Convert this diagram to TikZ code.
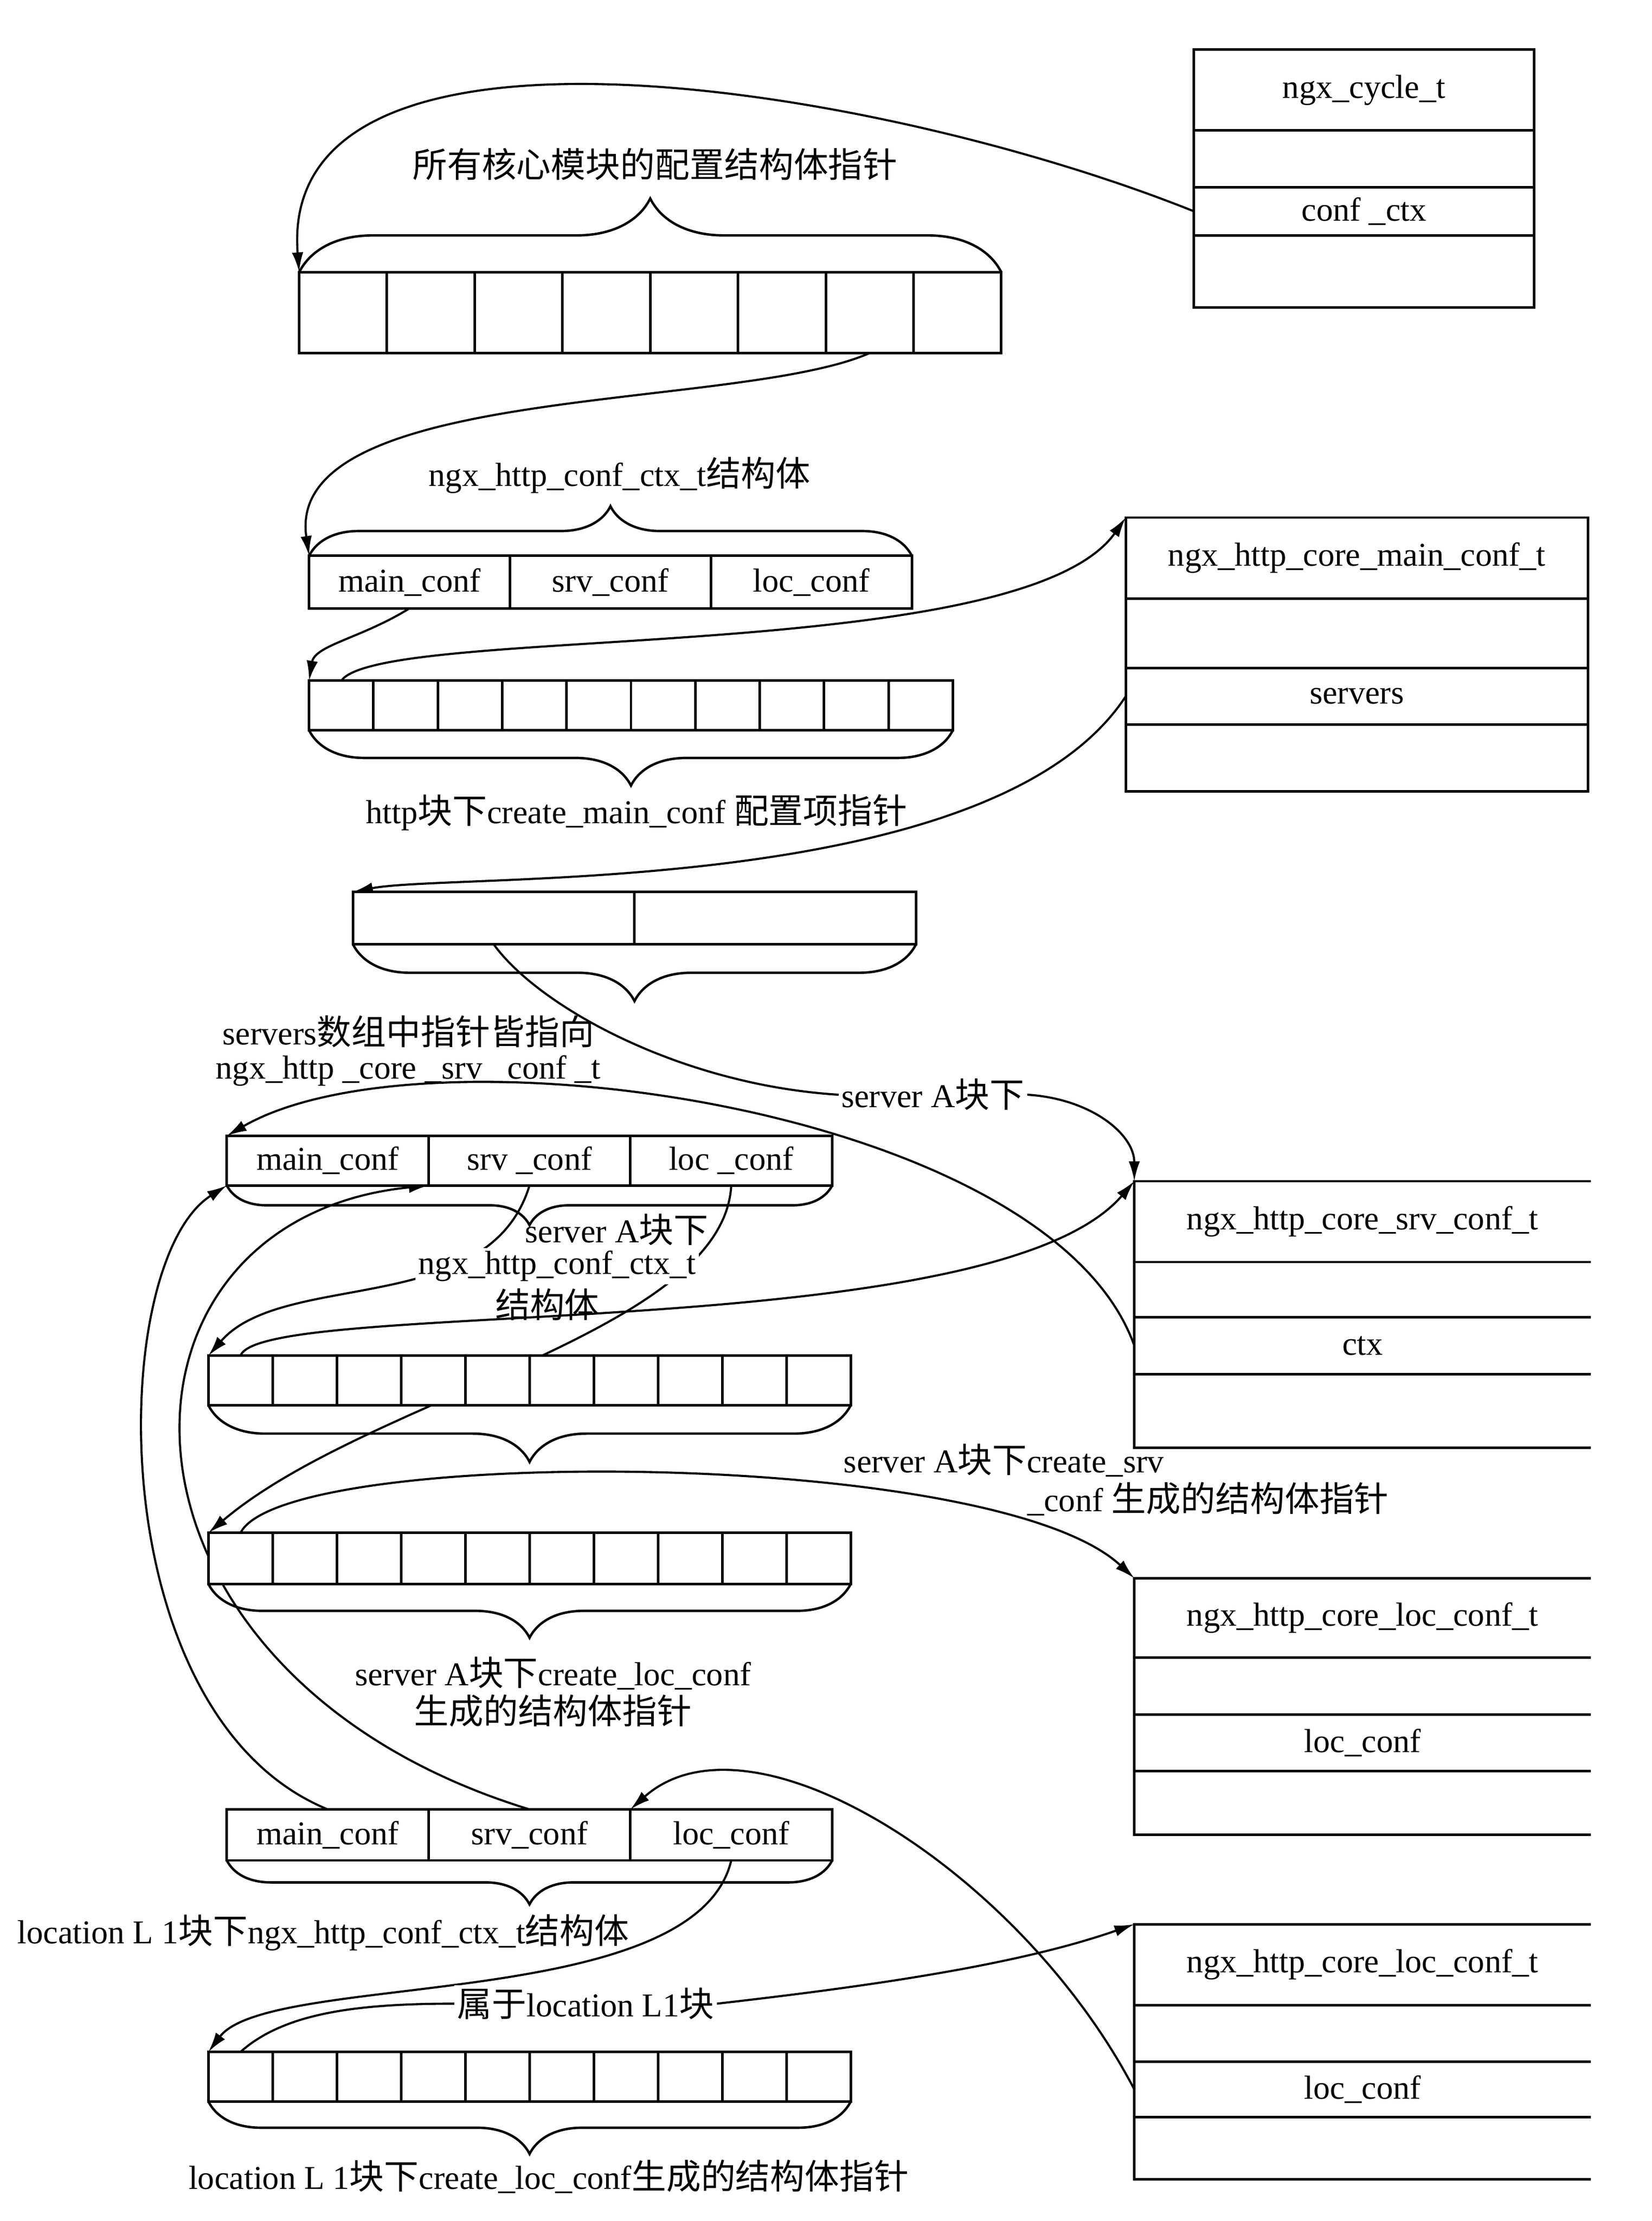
\documentclass[tikz,border=0pt]{standalone}
\usepackage{fontspec}
\setmainfont{Liberation Serif}
\newfontfamily\cjk{Noto Sans CJK SC}[Scale=1.04]
\newcommand{\zh}[1]{{\cjk #1}}
\usetikzlibrary{positioning,calc,decorations.pathreplacing,backgrounds,arrows.meta}
\tikzset{every node/.style={font=\fontsize{23.5}{27}\selectfont},
  cell/.style={draw, fill=white, line width=1.8pt, inner sep=0pt, outer sep=0pt},
  ctxcell/.style={cell, minimum width=142.3, minimum height=36},
  row/.style={inner sep=0pt, outer sep=0pt, minimum width=322},
  rec/.style={row, draw, line width=1.8pt},
  frame/.style={line width=1.8pt},
  curly/.style={decorate, decoration={brace, amplitude=#1}, line width=1.7pt},
  line/.style={-{Latex[length=14pt,width=8pt]}, line width=1.5pt},
  lbl/.style={inner sep=2pt},
  whitebg/.style={fill=white, inner sep=2pt}}

\begin{document}
\begin{tikzpicture}[x=1pt, y=-1pt]
    \useasboundingbox (0,0) rectangle (1165.1,1566.3);

    % ngx_cycle_t
    \node[rec, minimum width=240, minimum height=57, anchor=north west] (cyc1) at (842,35) {ngx\_cycle\_t};
    \node[rec, minimum width=240, minimum height=40, below=0pt of cyc1] (cyc2) {};
    \node[rec, minimum width=240, minimum height=34, below=0pt of cyc2] (cyc3) {conf \_ctx};
    \node[rec, minimum width=240, minimum height=51, below=0pt of cyc3] (cyc4) {};

    % ngx_http_core_main_conf_t
    \node[rec, minimum width=326, minimum height=57, anchor=north west] (hmain1) at (794,365) {ngx\_http\_core\_main\_conf\_t};
    \node[rec, minimum width=326, minimum height=49, below=0pt of hmain1] (hmain2) {};
    \node[rec, minimum width=326, minimum height=40, below=0pt of hmain2] (hmain3) {servers};
    \node[rec, minimum width=326, minimum height=47, below=0pt of hmain3] (hmain4) {};

    % ngx_http_core_srv_conf_t
    \node[row, minimum height=57, anchor=north west] (hsrv1) at (800,833) {ngx\_http\_core\_srv\_conf\_t};
    \node[row, minimum height=39, below=0pt of hsrv1] (hsrv2) {};
    \node[row, minimum height=40, below=0pt of hsrv2] (hsrv3) {ctx};
    \node[row, minimum height=52, below=0pt of hsrv3] (hsrv4) {};
    \draw[frame] (hsrv1.north east) -- (hsrv1.north west) -- (hsrv4.south west) -- (hsrv4.south east);
    \draw[frame] (hsrv2.north west) -- (hsrv2.north east) (hsrv3.north west) -- (hsrv3.north east)
                 (hsrv4.north west) -- (hsrv4.north east);

    % ngx_http_core_loc_conf_t of server A
    \node[row, minimum height=56, anchor=north west] (hloca1) at (800,1113) {ngx\_http\_core\_loc\_conf\_t};
    \node[row, minimum height=40, below=0pt of hloca1] (hloca2) {};
    \node[row, minimum height=40, below=0pt of hloca2] (hloca3) {loc\_conf};
    \node[row, minimum height=45, below=0pt of hloca3] (hloca4) {};
    \draw[frame] (hloca1.north east) -- (hloca1.north west) -- (hloca4.south west) -- (hloca4.south east);
    \draw[frame] (hloca2.north west) -- (hloca2.north east) (hloca3.north west) -- (hloca3.north east)
                 (hloca4.north west) -- (hloca4.north east);

    % ngx_http_core_loc_conf_t of location L1
    \node[row, minimum height=57, anchor=north west] (hlocb1) at (800,1357) {ngx\_http\_core\_loc\_conf\_t};
    \node[row, minimum height=40, below=0pt of hlocb1] (hlocb2) {};
    \node[row, minimum height=39, below=0pt of hlocb2] (hlocb3) {loc\_conf};
    \node[row, minimum height=44, below=0pt of hlocb3] (hlocb4) {};
    \draw[frame] (hlocb1.north east) -- (hlocb1.north west) -- (hlocb4.south west) -- (hlocb4.south east);
    \draw[frame] (hlocb2.north west) -- (hlocb2.north east) (hlocb3.north west) -- (hlocb3.north east)
                 (hlocb4.north west) -- (hlocb4.north east);

    % pointer arrays
    \foreach \i in {1,...,8}
      \node[cell, minimum width=61.9, minimum height=57, anchor=north west] (a1-\i) at ({211+61.9*(\i-1)},192) {};
    \foreach \i in {1,...,10}
      \node[cell, minimum width=45.4, minimum height=35, anchor=north west] (a2-\i) at ({218+45.4*(\i-1)},480) {};
    \foreach \i in {1,2}
      \node[cell, minimum width=198.5, minimum height=37, anchor=north west] (sa-\i) at ({249+198.5*(\i-1)},629) {};
    \foreach \i in {1,...,10}
      \node[cell, minimum width=45.3, minimum height=35, anchor=north west] (a3-\i) at ({147+45.3*(\i-1)},956) {};
    \foreach \i in {1,...,10}
      \node[cell, minimum width=45.3, minimum height=36, anchor=north west] (a4-\i) at ({147+45.3*(\i-1)},1081) {};
    \foreach \i in {1,...,10}
      \node[cell, minimum width=45.3, minimum height=35, anchor=north west] (a5-\i) at ({147+45.3*(\i-1)},1447) {};

    % ngx_http_conf_ctx_t
    \node[ctxcell, minimum width=141.7, minimum height=37, anchor=north west] (c1m) at (218,392) {main\_conf};
    \node[ctxcell, minimum width=141.7, minimum height=37, right=0pt of c1m] (c1s) {srv\_conf};
    \node[ctxcell, minimum width=141.7, minimum height=37, right=0pt of c1s] (c1l) {loc\_conf};

    \node[ctxcell, minimum height=35, anchor=north west] (c2m) at (160,801) {main\_conf};
    \node[ctxcell, minimum height=35, right=0pt of c2m] (c2s) {srv \_conf};
    \node[ctxcell, minimum height=35, right=0pt of c2s] (c2l) {loc \_conf};

    \node[ctxcell, anchor=north west] (c3m) at (160,1276) {main\_conf};
    \node[ctxcell, right=0pt of c3m] (c3s) {srv\_conf};
    \node[ctxcell, right=0pt of c3s] (c3l) {loc\_conf};

    % braces
    \draw[curly=52] (a1-1.north west) -- (a1-8.north east);
    \draw[curly=35] (c1m.north west) -- (c1l.north east);
    \draw[curly=39] (a2-10.south east) -- (a2-1.south west);
    \draw[curly=40] (sa-2.south east) -- (sa-1.south west);
    \draw[curly=28] (c2l.south east) -- (c2m.south west);
    \draw[curly=40] (a3-10.south east) -- (a3-1.south west);
    \draw[curly=38] (a4-10.south east) -- (a4-1.south west);
    \draw[curly=31] (c3l.south east) -- (c3m.south west);
    \draw[curly=37] (a5-10.south east) -- (a5-1.south west);

    % labels
    \node[lbl] (lab1) at (462,116) {\zh{所有核心模块的配置结构体指针}};
    \node[lbl] (lab2) at (437,335) {ngx\_http\_conf\_ctx\_t\zh{结构体}};
    \node[lbl] (lab3) at (449,573) {http\zh{块下}create\_main\_conf \zh{配置项指针}};
    \node[lbl, align=center] (lab4) at (288,741) {servers\zh{数组中指针皆指向}\\[-3pt]ngx\_http \_core \_srv \_conf \_t};
    \node[whitebg] (srvA) at (658,772) {server A\zh{块下}};
    \node[whitebg] (lab5b) at (393,893) {ngx\_http\_conf\_ctx\_t};
    \node[lbl] (lab5a) at (435,867) {server A\zh{块下}};
    \node[lbl] (lab5c) at (386,920) {\zh{结构体}};
    \node[lbl] (lab6a) at (708,1030) {server A\zh{块下}create\_srv};
    \node[lbl] (lab6b) at (852,1057) {\_conf \zh{生成的结构体指针}};
    \node[lbl, align=center] (lab7) at (390,1193) {server A\zh{块下}create\_loc\_conf\\\zh{生成的结构体指针}};
    \node[lbl] (lab8) at (228,1363) {location L 1\zh{块下}ngx\_http\_conf\_ctx\_t\zh{结构体}};
    \node[whitebg] (inL1) at (413,1413) {\zh{属于}location L1\zh{块}};
    \node[lbl] (lab9) at (387,1535) {location L 1\zh{块下}create\_loc\_conf\zh{生成的结构体指针}};

    % pointers
    \begin{scope}[on background layer]
    \fill[white] (0,0) rectangle (1165.1,1566.3);
    \draw[line] (cyc3.west) .. controls (620,60) and (195,-10) .. (a1-1.north west);
    \draw[line] (a1-7.south) .. controls (520,290) and (200,270) .. (c1m.north west);
    \draw[line] (c1m.south) .. controls (255,450) and (222,455) .. (a2-1.north west);
    \draw[line] (a2-1.north) .. controls (270,440) and (720,470) .. (hmain1.north west);
    \draw[line] (hmain3.west) .. controls (700,635) and (320,615) .. (sa-1.north west);
    \draw[line] (sa-1.south) .. controls (380,710) and (480,765) .. (srvA.west) -- (srvA.east)
                .. controls (770,775) and (800,800) .. (hsrv1.north west);
    \draw[line] (hsrv3.west) .. controls (740,780) and (300,720) .. (c2m.north west);
    \draw[line] (a3-1.north) .. controls (185,915) and (700,950) .. (hsrv1.north west);
    \draw[line] (c2s.south) .. controls (345,930) and (200,895) .. (a3-1.north west);
    \draw[line] (c2l.south) .. controls (510,940) and (260,985) .. (a4-1.north west);
    \draw[line] (a4-1.north) .. controls (200,1020) and (700,1020) .. (hloca1.north west);
    \draw[line] (c3m.north) .. controls (70,1210) and (75,890) .. (c2m.south west);
    \draw[line] (c3s.north) .. controls (60,1180) and (60,860) .. (c2s.south west);
    \draw[line] (hlocb3.west) .. controls (720,1320) and (530,1200) .. (c3l.north west);
    \draw[line] (c3l.south) .. controls (490,1420) and (190,1390) .. (a5-1.north west);
    \draw[line] (a5-1.north) .. controls (200,1420) and (250,1413) .. (inL1.west) -- (inL1.east)
                .. controls (620,1400) and (720,1385) .. (hlocb1.north west);
    \end{scope}
\end{tikzpicture}
\end{document}
